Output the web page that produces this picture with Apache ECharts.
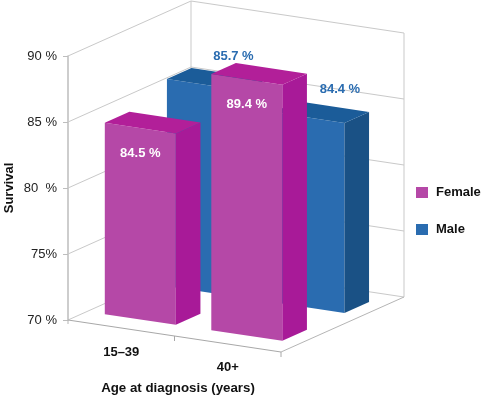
<!DOCTYPE html>
<html>
<head>
<meta charset="utf-8">
<style>
  html, body { margin: 0; padding: 0; background: #fff; }
  #chart { width: 482px; height: 395px; }
</style>
<script src="https://cdn.jsdelivr.net/npm/echarts@6/dist/echarts.min.js"></script>
</head>
<body>
<div id="chart"></div>
<script>
const categories = ["15–39", "40+"]
const femaleValues = [84.5, 89.4]
const maleValues = [85.7, 84.4]
const yTicks = [70, 75, 80, 85, 90]
const yTickLabels = ["70 %", "75%", "80  %", "85 %", "90 %"]

const FONT = '"Liberation Sans", Arial, sans-serif'
const GRID = { left: 68, top: 56, width: 213, height: 264, outerBoundsMode: "none" }

// oblique projection: the category axis runs downhill, depth runs up and right
const SKEW_Y = 32
const DEPTH_X = 123
const DEPTH_Y = -55
const BAR_WIDTH = 0.667 // share of a category band
const BAR_DEPTH = 0.2

const chart = echarts.init(document.getElementById("chart"), null, { renderer: "canvas" })

// u is the position along the category axis in px from the origin, d the depth 0..1
function project(api, u, d, value) {
  const p = api.coord([0, value])
  const left = p[0] - api.size([1, 0])[0] / 2
  return [
    left + u + d * DEPTH_X,
    p[1] + (u / GRID.width) * SKEW_Y + d * DEPTH_Y,
  ]
}

function line(a, b, stroke, lineWidth) {
  return {
    type: "line",
    shape: { x1: a[0], y1: a[1], x2: b[0], y2: b[1] },
    style: { stroke: stroke, lineWidth: lineWidth || 1 },
  }
}

function barRenderer(depthStart, colors, labelColor, onFront) {
  return (params, api) => {
    const band = api.size([1, 0])[0]
    const idx = api.value(0)
    const value = api.value(1)
    const u0 = band * idx + (band * (1 - BAR_WIDTH)) / 2
    const u1 = u0 + band * BAR_WIDTH
    const d0 = depthStart
    const d1 = depthStart + BAR_DEPTH
    const base = yTicks[0]

    const flb = project(api, u0, d0, base)
    const frb = project(api, u1, d0, base)
    const brb = project(api, u1, d1, base)
    const flt = project(api, u0, d0, value)
    const frt = project(api, u1, d0, value)
    const brt = project(api, u1, d1, value)
    const blt = project(api, u0, d1, value)

    const cx = (flt[0] + frt[0]) / 2
    const cy = (flt[1] + frt[1]) / 2
    const labelPos = onFront
      ? [cx, cy + 25]
      : [cx + 25 + 6, cy - 28]

    return {
      type: "group",
      children: [
        { type: "polygon", shape: { points: [flb, frb, frt, flt] }, style: { fill: colors.front } },
        { type: "polygon", shape: { points: [frb, brb, brt, frt] }, style: { fill: colors.side } },
        { type: "polygon", shape: { points: [flt, frt, brt, blt] }, style: { fill: colors.top } },
        {
          type: "text",
          z2: 10,
          style: {
            x: labelPos[0],
            y: labelPos[1],
            text: value + " %",
            fill: labelColor,
            font: "bold 13px " + FONT,
            align: "center",
            verticalAlign: "middle",
          },
        },
      ],
    }
  }
}

function wallRenderer(params, api) {
  const value = api.value(1)
  const w = GRID.width
  const a = project(api, 0, 0, value)
  const b = project(api, 0, 1, value)
  const c = project(api, w, 1, value)
  const children = [line(a, b, "#c9c9c9"), line(b, c, "#c9c9c9")]
  if (value === yTicks[0]) {
    // floor edges and the ticks under them
    const f = project(api, w, 0, value)
    const m = project(api, w / 2, 0, value)
    const top = yTicks[yTicks.length - 1]
    children.push(
      line(a, f, "#a8a8a8"),
      line(f, c, "#b5b5b5"),
      line(b, project(api, 0, 1, top), "#c9c9c9"),
      line(c, project(api, w, 1, top), "#c9c9c9"),
      line(m, [m[0], m[1] + 5], "#a8a8a8"),
      line(f, [f[0], f[1] + 5], "#a8a8a8"),
      line(a, [a[0], a[1] + 4], "#b5b5b5")
    )
  }
  return { type: "group", children: children }
}

function categoryLabelRenderer(params, api) {
  const band = api.size([1, 0])[0]
  const idx = api.value(0)
  const p = project(api, band * (idx + 0.5), 0, yTicks[0])
  return {
    type: "text",
    style: {
      x: p[0],
      y: p[1] + (idx === 0 ? 24 : 23),
      text: categories[idx],
      fill: "#111",
      font: "bold 13px " + FONT,
      align: "center",
      verticalAlign: "middle",
    },
  }
}

const femaleColors = { front: "#b548a7", side: "#a81a98", top: "#b21f99" }
const maleColors = { front: "#2a6cb0", side: "#1a5185", top: "#1b5c99" }

const option = {
  animation: false,
  backgroundColor: "#fff",
  grid: GRID,
  xAxis: {
    type: "category",
    data: categories,
    axisLine: { show: false },
    axisTick: { show: false },
    axisLabel: { show: false },
    name: "Age at diagnosis (years)",
    nameLocation: "middle",
    nameGap: 62,
    nameTextStyle: { fontFamily: FONT, fontWeight: "bold", fontSize: 13.3, color: "#111", padding: [0, 0, 0, 7] },
  },
  yAxis: {
    type: "value",
    min: 70,
    max: 90,
    interval: 5,
    splitLine: { show: false },
    axisLine: { show: true, lineStyle: { color: "#bdbdbd", width: 1.5 } },
    axisTick: { show: true, length: 5, lineStyle: { color: "#bdbdbd" } },
    axisLabel: {
      margin: 11,
      fontFamily: FONT,
      fontSize: 13,
      color: "#222",
      formatter: (v) => yTickLabels[yTicks.indexOf(v)],
    },
    name: "Survival",
    nameLocation: "middle",
    nameGap: 52,
    nameTextStyle: { fontFamily: FONT, fontWeight: "bold", fontSize: 13, color: "#111" },
  },
  legend: {
    data: ["Female", "Male"],
    orient: "vertical",
    left: 416,
    top: 186,
    padding: 0,
    icon: "rect",
    itemWidth: 12,
    itemHeight: 11,
    itemGap: 24,
    selectedMode: false,
    textStyle: { fontFamily: FONT, fontWeight: "bold", fontSize: 13, color: "#111", padding: [0, 0, 0, 3] },
  },
  series: [
    {
      name: "walls",
      type: "custom",
      renderItem: wallRenderer,
      data: yTicks.map((v) => [0, v]),
      silent: true,
      z: 1,
    },
    {
      name: "Male",
      type: "custom",
      renderItem: barRenderer(0.66, maleColors, "#2a6cb0", false),
      itemStyle: { color: maleColors.front },
      data: maleValues.map((v, i) => [i, v]),
      z: 2,
    },
    {
      name: "Female",
      type: "custom",
      renderItem: barRenderer(0.155, femaleColors, "#ffffff", true),
      itemStyle: { color: femaleColors.front },
      data: femaleValues.map((v, i) => [i, v]),
      z: 3,
    },
    {
      name: "categoryLabels",
      type: "custom",
      renderItem: categoryLabelRenderer,
      data: categories.map((c, i) => [i, yTicks[0]]),
      silent: true,
      z: 4,
    },
  ],
}

chart.setOption(option)
</script>
</body>
</html>
